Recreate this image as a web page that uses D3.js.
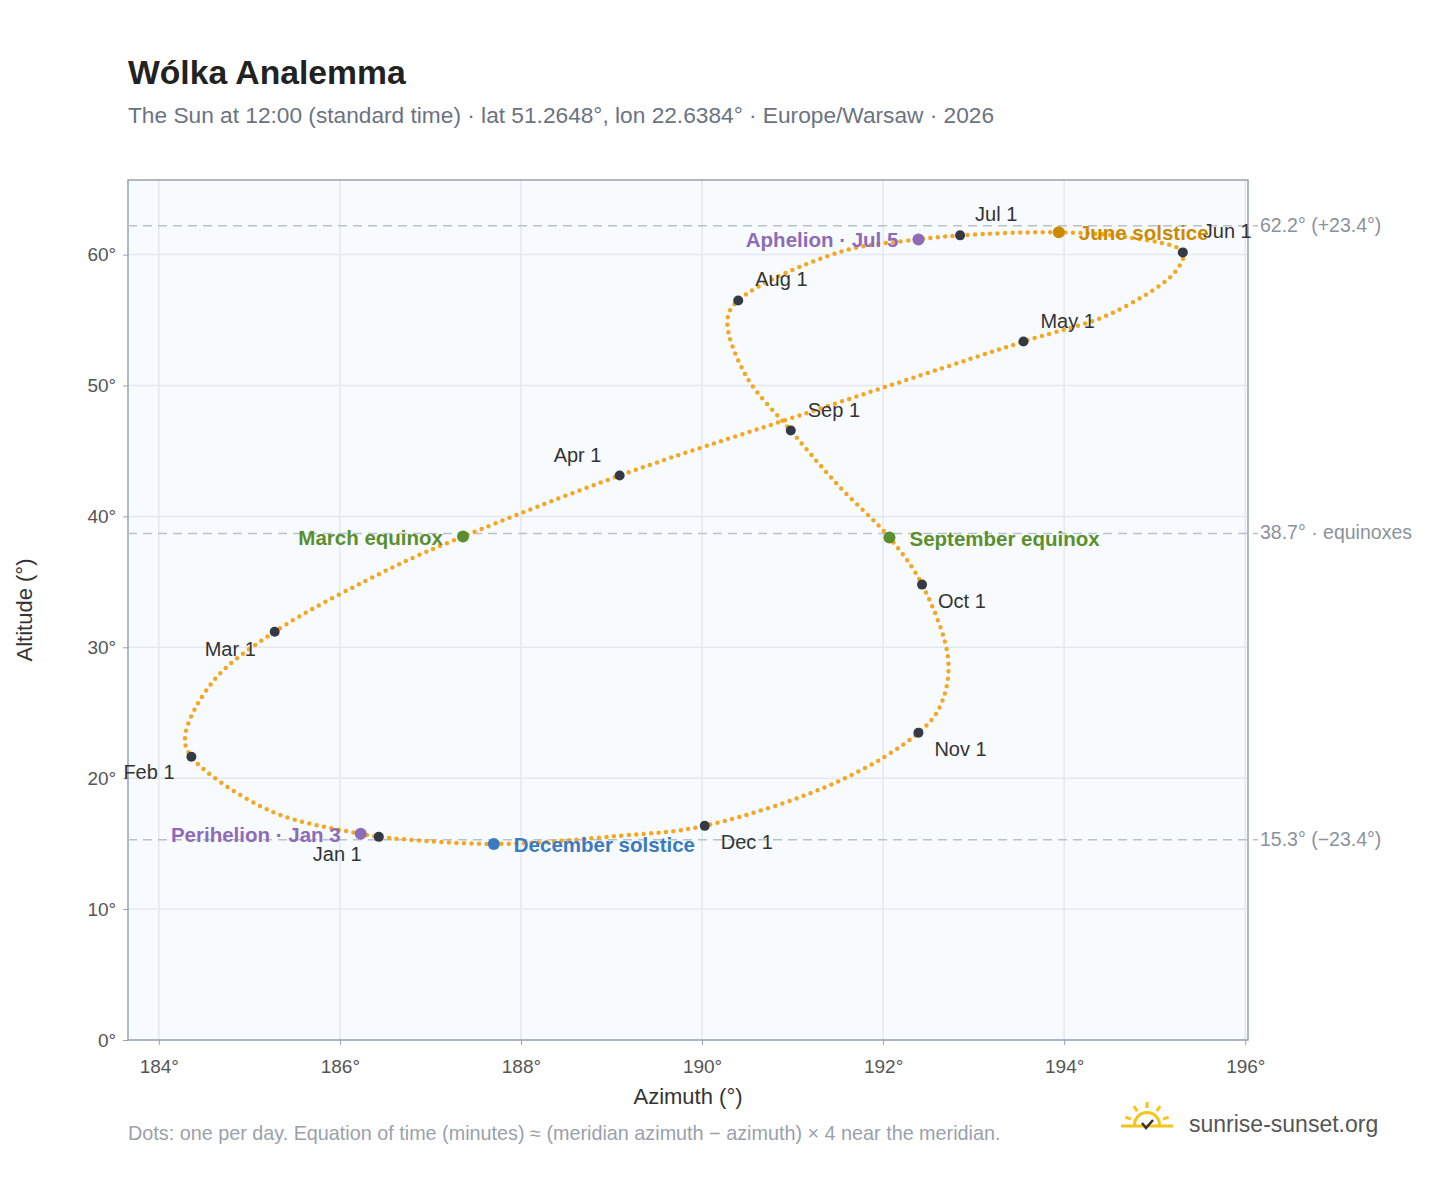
<!DOCTYPE html>
<html><head><meta charset="utf-8">
<script src="https://cdn.jsdelivr.net/npm/d3@7"></script>
<style>body{margin:0;background:#fff;font-family:"Liberation Sans",Arial,sans-serif}</style>
</head><body><div id="chart"></div>
<script>
// path points, in date order (azimuth °, altitude °)
const pathDates = ['Jan 1','Jan 3','Jan 15','Feb 1','Feb 10','Feb 15','Mar 1','Mar 15','Mar 20','Apr 1','Apr 15','May 1','May 15','May 25','Jun 1','Jun 10','Jun 21','Jul 1','Jul 5','Jul 15','Aug 1','Aug 10','Aug 20','Sep 1','Sep 15','Sep 23','Oct 1','Oct 15','Oct 25','Nov 1','Nov 15','Dec 1','Dec 10','Dec 21'];
const pathAz  = [186.43,186.23,185.23,184.36,184.29,184.6,185.28,186.61,187.36,189.09,191.07,193.55,194.52,195.22,195.31,194.73,193.94,192.85,192.39,191.52,190.40,190.28,190.48,190.98,191.5,192.07,192.43,192.72,192.63,192.39,191.52,190.03,189.09,187.70];
const pathAlt = [15.52,15.75,17.5,21.64,23.2,27.4,31.19,36.2,38.46,43.12,47.7,53.36,55.5,58.64,60.17,61.3,61.70,61.47,61.16,60.2,56.5,55.0,50.8,46.56,42.4,38.38,34.79,29.0,25.5,23.47,19.8,16.36,15.6,14.98];

const monthLabels = ['Jan 1','Feb 1','Mar 1','Apr 1','May 1','Jun 1','Jul 1','Aug 1','Sep 1','Oct 1','Nov 1','Dec 1'];
const monthAz  = [186.43,184.36,185.28,189.09,193.55,195.31,192.85,190.40,190.98,192.43,192.39,190.03];
const monthAlt = [15.52,21.64,31.19,43.12,53.36,60.17,61.47,56.50,46.56,34.79,23.47,16.36];
const monthDx  = [-66,-68,-70,-66,17,20,15,17,17,16,16,16];
const monthDy  = [24,22,24,-14,-14,-14,-14,-14,-14,23,23,23];

const eventLabels = ['Perihelion · Jan 3','March equinox','June solstice','Aphelion · Jul 5','September equinox','December solstice'];
const eventAz  = [186.23,187.36,193.94,192.39,192.07,187.70];
const eventAlt = [15.75,38.46,61.70,61.16,38.38,14.98];
const eventColor = ['#8e6bb8','#5a8f2e','#cc8a00','#8e6bb8','#5a8f2e','#3a7abf'];
const eventAnchor = ['end','end','start','end','start','start'];

const refAlt = [62.2,38.7,15.3];
const refText = ['62.2° (+23.4°)','38.7° · equinoxes','15.3° (−23.4°)'];
const xTicks = [184,186,188,190,192,194,196];
const yTicks = [0,10,20,30,40,50,60];

const W=1448,H=1188,L=128,R=1248,T=180,B=1040;
const x=d3.scaleLinear().domain([183.66,196.03]).range([L,R]);
const y=d3.scaleLinear().domain([0,65.7]).range([B,T]);
const svg=d3.select('#chart').append('svg').attr('width',W).attr('height',H);

svg.append('text').attr('x',128).attr('y',84).attr('font-size',33.7).attr('font-weight','bold').attr('fill','#222').text('Wólka Analemma');
svg.append('text').attr('x',128).attr('y',123).attr('font-size',22.7).attr('fill','#6b7380').text('The Sun at 12:00 (standard time) · lat 51.2648°, lon 22.6384° · Europe/Warsaw · 2026');

svg.append('rect').attr('x',L).attr('y',T).attr('width',R-L).attr('height',B-T).attr('fill','#f8fbfe');
svg.append('g').selectAll('line').data(xTicks).join('line').attr('x1',d=>x(d)).attr('x2',d=>x(d)).attr('y1',T).attr('y2',B).attr('stroke','#e3e8ee').attr('stroke-width',1.5);
svg.append('g').selectAll('line').data(yTicks).join('line').attr('x1',L).attr('x2',R).attr('y1',d=>y(d)).attr('y2',d=>y(d)).attr('stroke','#e3e8ee').attr('stroke-width',1.5);
svg.append('rect').attr('x',L).attr('y',T).attr('width',R-L).attr('height',B-T).attr('fill','none').attr('stroke','#97a3b0').attr('stroke-width',1.5);

const xa=svg.append('g').attr('transform',`translate(0,${B})`).call(d3.axisBottom(x).tickValues(xTicks).tickFormat(d=>d+'°').tickSize(5));
const ya=svg.append('g').attr('transform',`translate(${L},0)`).call(d3.axisLeft(y).tickValues(yTicks).tickFormat(d=>d+'°').tickSize(5));
[xa,ya].forEach(a=>{a.select('.domain').remove();a.selectAll('line').attr('stroke','#97a3b0');a.selectAll('text').attr('font-size',19).attr('fill','#555').attr('font-family','Liberation Sans, Arial');});
xa.selectAll('text').attr('dy','1.3em');ya.selectAll('text').attr('dx','-0.2em');
svg.append('text').attr('x',(L+R)/2).attr('y',1104).attr('text-anchor','middle').attr('font-size',22).attr('fill','#333').text('Azimuth (°)');
svg.append('text').attr('transform',`translate(32,${(T+B)/2}) rotate(-90)`).attr('text-anchor','middle').attr('font-size',22).attr('fill','#333').text('Altitude (°)');

svg.append('g').selectAll('line').data(refAlt).join('line').attr('x1',L).attr('x2',R+10).attr('y1',d=>y(d)).attr('y2',d=>y(d)).attr('stroke','#b9c1cb').attr('stroke-width',1.5).attr('stroke-dasharray','9 6');
svg.append('g').selectAll('text').data(refText).join('text').attr('x',1260).attr('y',(d,i)=>y(refAlt[i])+6).attr('font-size',19.5).attr('fill','#8a929c').text(d=>d);

const pts=pathAz.map((a,i)=>[x(a),y(pathAlt[i])]);
svg.append('path').attr('d',d3.line().curve(d3.curveCatmullRomClosed)(pts)).attr('fill','none').attr('stroke','#f5a623').attr('stroke-width',4.5).attr('stroke-linecap','round').attr('stroke-dasharray','0 7.5');

svg.append('g').selectAll('circle').data(monthLabels).join('circle').attr('cx',(d,i)=>x(monthAz[i])).attr('cy',(d,i)=>y(monthAlt[i])).attr('r',5).attr('fill','#333a45');
svg.append('g').selectAll('text').data(monthLabels).join('text').attr('x',(d,i)=>x(monthAz[i])+monthDx[i]).attr('y',(d,i)=>y(monthAlt[i])+monthDy[i]).attr('font-size',20).attr('fill','#333').text(d=>d);

svg.append('g').selectAll('circle').data(eventLabels).join('circle').attr('cx',(d,i)=>x(eventAz[i])).attr('cy',(d,i)=>y(eventAlt[i])).attr('r',6).attr('fill',(d,i)=>eventColor[i]);
svg.append('g').selectAll('text').data(eventLabels).join('text').attr('x',(d,i)=>x(eventAz[i])+(eventAnchor[i]=='end'?-20:20)).attr('y',(d,i)=>y(eventAlt[i])+8).attr('text-anchor',(d,i)=>eventAnchor[i]).attr('font-size',20.5).attr('font-weight','bold').attr('fill',(d,i)=>eventColor[i]).text(d=>d);

svg.append('text').attr('x',128).attr('y',1140).attr('font-size',19.8).attr('fill','#9aa1aa').text('Dots: one per day. Equation of time (minutes) ≈ (meridian azimuth − azimuth) × 4 near the meridian.');
const lg=svg.append('g').attr('transform','translate(1147,1125)');
lg.append('path').attr('d',d3.arc()({innerRadius:11,outerRadius:14,startAngle:-Math.PI/2,endAngle:Math.PI/2})).attr('fill','#f5c518');
[-70,-35,0,35,70].forEach(a=>{const r=a*Math.PI/180;lg.append('line').attr('x1',17*Math.sin(r)).attr('y1',-17*Math.cos(r)).attr('x2',23*Math.sin(r)).attr('y2',-23*Math.cos(r)).attr('stroke','#f5c518').attr('stroke-width',3);});
lg.append('line').attr('x1',-26).attr('x2',26).attr('y1',1).attr('y2',1).attr('stroke','#f5c518').attr('stroke-width',3);
lg.append('path').attr('d','M-5,-2 L-1,3 L6,-5').attr('fill','none').attr('stroke','#333').attr('stroke-width',2.5);
svg.append('text').attr('x',1189).attr('y',1132).attr('font-size',23).attr('fill','#555').text('sunrise-sunset.org');
</script></body></html>
